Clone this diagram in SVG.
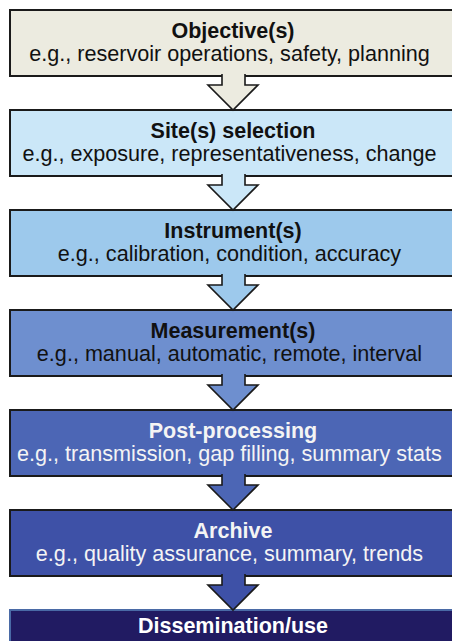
<svg xmlns="http://www.w3.org/2000/svg" width="452" height="641" viewBox="0 0 452 641">
<style>
  .box { stroke: #1a1a1a; stroke-width: 2; }
  .arrow { stroke: #1a1a1a; stroke-width: 1.6; stroke-linejoin: miter; }
  .title { font-family: "Liberation Sans", Arial, sans-serif; font-size: 21.5px; font-weight: bold; text-anchor: middle; }
  .sub { font-family: "Liberation Sans", Arial, sans-serif; font-size: 21.6px; text-anchor: middle; }
  .dark { fill: #111111; }
  .light { fill: #f4f4f4; }
</style>
<rect width="452" height="641" fill="#ffffff"/>
<g id="node-objectives">
  <rect class="box" x="10" y="10" width="450" height="66" fill="#ecebe0"/>
  <text class="title dark" x="233" y="38">Objective(s)</text>
  <text class="sub dark" x="229.5" y="61">e.g., reservoir operations, safety, planning</text>
</g>
<g id="node-site">
  <rect class="box" x="10" y="110" width="450" height="66" fill="#cbe7f8"/>
  <text class="title dark" x="233" y="138">Site(s) selection</text>
  <text class="sub dark" x="229.5" y="161">e.g., exposure, representativeness, change</text>
</g>
<g id="node-instruments">
  <rect class="box" x="10" y="210" width="450" height="66" fill="#9dc9ec"/>
  <text class="title dark" x="233" y="238">Instrument(s)</text>
  <text class="sub dark" x="229.5" y="261">e.g., calibration, condition, accuracy</text>
</g>
<g id="node-measurements">
  <rect class="box" x="10" y="310" width="450" height="66" fill="#6e8fcf"/>
  <text class="title dark" x="233" y="338">Measurement(s)</text>
  <text class="sub dark" x="229.5" y="361">e.g., manual, automatic, remote, interval</text>
</g>
<g id="node-postprocessing">
  <rect class="box" x="10" y="410" width="450" height="66" fill="#4c66b5"/>
  <text class="title light" x="233" y="438">Post-processing</text>
  <text class="sub light" x="229.5" y="461">e.g., transmission, gap filling, summary stats</text>
</g>
<g id="node-archive">
  <rect class="box" x="10" y="510" width="450" height="66" fill="#3e51a7"/>
  <text class="title light" x="233" y="538">Archive</text>
  <text class="sub light" x="229.5" y="561">e.g., quality assurance, summary, trends</text>
</g>
<g id="node-dissemination">
  <rect x="10" y="610" width="450" height="50" fill="#211b62" stroke="#4a6aa6" stroke-width="2"/>
  <text class="title" fill="#ffffff" x="233" y="633">Dissemination/use</text>
</g>
<g id="connectors">
  <path class="arrow" d="M222,74 V85 H208 L233,110 L258,85 H245 V74" fill="#ecebe0"/>
  <path class="arrow" d="M222,174 V185 H208 L233,210 L258,185 H245 V174" fill="#cbe7f8"/>
  <path class="arrow" d="M222,274 V285 H208 L233,310 L258,285 H245 V274" fill="#9dc9ec"/>
  <path class="arrow" d="M222,374 V385 H208 L233,410 L258,385 H245 V374" fill="#6e8fcf"/>
  <path class="arrow" d="M222,474 V485 H208 L233,510 L258,485 H245 V474" fill="#4c66b5"/>
  <path class="arrow" d="M222,574 V585 H208 L233,610 L258,585 H245 V574" fill="#3e51a7"/>
</g>
</svg>
